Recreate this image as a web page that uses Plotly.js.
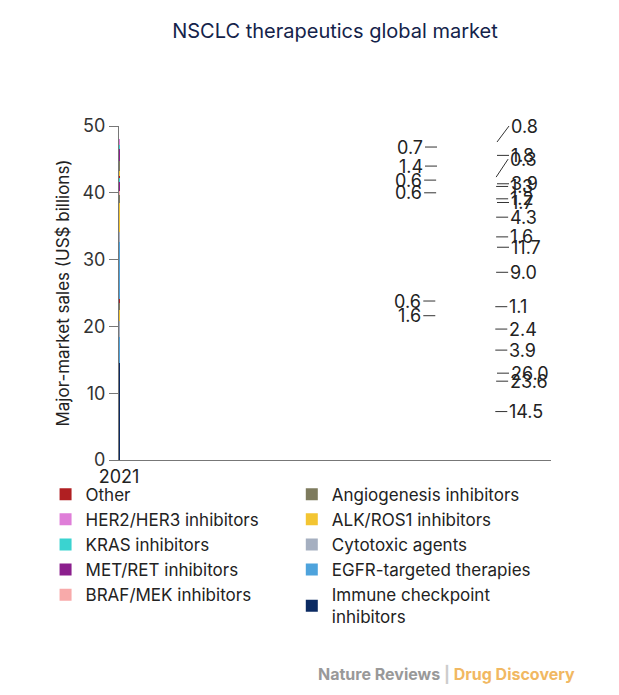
<!DOCTYPE html>
<html><head><meta charset="utf-8">
<script src="https://cdn.plot.ly/plotly-3.0.1.min.js"></script>
<style>body{margin:0;background:#fff}</style>
</head><body>
<div id="chart" style="width:619px;height:695px"></div>
<script>
// stacking order: bottom to top
var years = ['2021', '2026', '2031'];
var totals = [24.1, 42.5, 48.0];
var names = ['Immune checkpoint<br>inhibitors', 'EGFR-targeted therapies', 'Cytotoxic agents', 'ALK/ROS1 inhibitors',
  'Angiogenesis inhibitors', 'BRAF/MEK inhibitors', 'MET/RET inhibitors', 'KRAS inhibitors', 'HER2/HER3 inhibitors', 'Other'];
var immune = [14.5, 23.6, 26.0];
var egfr = [3.9, 9.0, 11.7];
var cyto = [2.4, 1.6, 1.7];
var alk = [1.6, 4.3, 3.9];
var angio = [1.1, 1.2, 1.4];
var braf = [0, 0.6, 0];
var met = [0, 1.3, 1.8];
var kras = [0, 0.6, 0.7];
var her2 = [0, 0, 0.8];
var other = [0.6, 0.3, 0];
var colors = ['#0b2a62', '#4ea3dc', '#a5afc0', '#f3c532', '#7e7b5e', '#f8aaaa', '#8b1f8d', '#3ad3d0', '#df7ed8', '#b01f22'];
var legendOf = ['legend2', 'legend2', 'legend2', 'legend2', 'legend2', 'legend', 'legend', 'legend', 'legend', 'legend'];
var ranks = [5, 4, 3, 2, 1, 5, 4, 3, 2, 1];
var series = [immune, egfr, cyto, alk, angio, braf, met, kras, her2, other];

// label side (+1 right, -1 left) and vertical nudge per segment per year
var side = [[1,1,1],[1,1,1],[1,1,1],[-1,1,1],[1,1,-1],[0,-1,0],[0,1,1],[0,-1,-1],[0,0,1],[-1,1,0]];
var nudge = [[0,0,0],[0,0,0],[0,0,0],[0,0,0],[0,0,0],[0,0,0],[0,0,0],[0,0,0],[0,0,-16],[0,-18,0]];

var data = series.map(function (s, i) {
  return {type: 'bar', x: years, y: s, name: names[i], marker: {color: colors[i]},
    width: 0.42, legend: legendOf[i], legendrank: ranks[i], hoverinfo: 'skip'};
});

var ann = [];
var cum = [0, 0, 0];
series.forEach(function (s, i) {
  s.forEach(function (v, j) {
    if (v > 0) {
      var mid = cum[j] + v / 2;
      var sd = side[i][j];
      ann.push({x: years[j], y: mid, xref: 'x', yref: 'y', text: v.toFixed(1), showarrow: true,
        arrowhead: 0, arrowwidth: 1, arrowcolor: '#333', standoff: 0, xshift: sd * 30,
        ax: sd * 12, ay: nudge[i][j], xanchor: sd > 0 ? 'left' : 'right', font: {size: 18, color: '#222'}});
    }
    cum[j] += v;
  });
});
totals.forEach(function (t, j) {
  ann.push({x: years[j], y: 50.4, xref: 'x', yref: 'y', text: '<b>' + t.toFixed(1) + '</b>',
    showarrow: false, font: {size: 18, color: '#111'}});
});
ann.push({xref: 'paper', yref: 'paper', x: 1.06, y: -0.64, xanchor: 'right', yanchor: 'middle', showarrow: false,
  text: '<b><span style="color:#999">Nature Reviews</span> <span style="color:#ccc">|</span> <span style="color:#f1b862">Drug Discovery</span></b>',
  font: {size: 16}});

var legBase = {orientation: 'v', yanchor: 'top', y: -0.05, traceorder: 'normal', font: {size: 17, color: '#222'},
  itemwidth: 30, tracegroupgap: 0, bgcolor: 'rgba(0,0,0,0)'};

var layout = {
  width: 619, height: 695,
  margin: {l: 119, r: 68, t: 126, b: 235},
  barmode: 'stack',
  font: {family: 'Inter, Roboto, sans-serif', color: '#222'},
  title: {text: 'NSCLC therapeutics global market', x: 0.5, xref: 'paper', y: 0.965, font: {size: 20, color: '#14234a'}},
  xaxis: {type: 'category', tickfont: {size: 18}, showline: true, linecolor: '#777', ticks: ''},
  yaxis: {range: [0, 50], dtick: 10, showgrid: false, zeroline: false, ticks: 'outside', ticklen: 9,
    tickcolor: '#777', showline: true, linecolor: '#777', tickfont: {size: 18, color: '#333'},
    title: {text: 'Major-market sales (US$ billions)', font: {size: 17}, standoff: 8}},
  showlegend: true,
  legend: Object.assign({x: -0.17, xanchor: 'left'}, legBase),
  legend2: Object.assign({x: 0.4, xanchor: 'left'}, legBase),
  annotations: ann,
  plot_bgcolor: '#fff', paper_bgcolor: '#fff'
};
Plotly.newPlot('chart', data, layout, {displayModeBar: false});
</script>
</body></html>
